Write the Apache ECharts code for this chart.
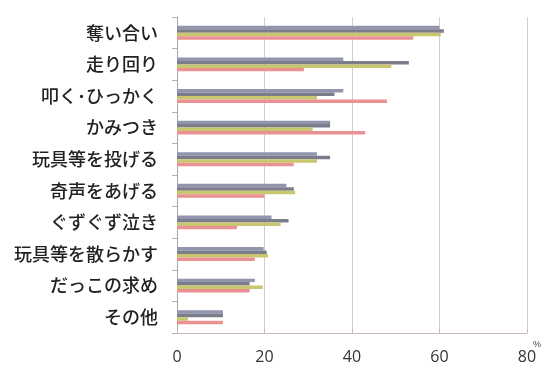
<!DOCTYPE html>
<html><head><meta charset="utf-8">
<script src="https://cdn.jsdelivr.net/npm/echarts@6/dist/echarts.min.js"></script>
<style>html,body{margin:0;padding:0;background:#fff}#c{width:544px;height:374px}</style>
</head><body><div id="c"></div>
<script>
const categories = ['奪い合い','走り回り','叩く･ひっかく','かみつき','玩具等を投げる','奇声をあげる','ぐずぐず泣き','玩具等を散らかす','だっこの求め','その他'];
const series1 = [60, 38, 38, 35, 32, 25, 21.6, 19.8, 17.8, 10.5];
const series2 = [61, 53, 36, 35, 35, 26.7, 25.5, 20.5, 16.6, 10.5];
const series3 = [60.3, 49, 32, 31, 32, 27, 23.7, 20.8, 19.6, 2.5];
const series4 = [54, 29, 48, 43, 26.7, 20, 13.7, 17.8, 16.6, 10.5];
const xTicks = [0, 20, 40, 60, 80];

const colors = ['#9195ad', '#7c7d8a', '#c9c76e', '#ea9193'];
const chart = echarts.init(document.getElementById('c'));
const mk = (name, data, i) => ({
  name, type: 'bar', data, barGap: '0%', barCategoryGap: '56%',
  itemStyle: { color: colors[i] }
});
chart.setOption({
  animation: false,
  backgroundColor: '#fff',
  grid: { left: 177, right: 17, top: 17, bottom: 41, containLabel: false, outerBoundsMode: 'none' },
  xAxis: {
    type: 'value', min: xTicks[0], max: xTicks[xTicks.length - 1], interval: 20,
    axisLine: { show: true, lineStyle: { color: '#cdb8b8', width: 1 } },
    axisTick: { show: true, inside: true, length: 4, lineStyle: { color: '#c8b8b8' } },
    splitLine: { show: true, lineStyle: { color: '#d6cccc', width: 1 } },
    axisLabel: { fontSize: 16, color: '#333', margin: 16, fontFamily: 'Open Sans' },
    name: '%', nameLocation: 'end', nameGap: 6,
    nameTextStyle: { fontSize: 9, color: '#444', align: 'left', verticalAlign: 'top', padding: [7, 0, 0, 0] }
  },
  yAxis: {
    type: 'category', data: categories, inverse: true,
    axisLine: { show: true, lineStyle: { color: '#a8a8a8', width: 1 } },
    axisTick: { show: true, length: 5, lineStyle: { color: '#b8b0b0' } },
    axisLabel: { fontSize: 18, color: '#222', margin: 19, fontFamily: 'Noto Sans CJK JP', fontWeight: 500 }
  },
  series: [mk('s1', series1, 0), mk('s2', series2, 1), mk('s3', series3, 2), mk('s4', series4, 3)]
});
</script></body></html>
